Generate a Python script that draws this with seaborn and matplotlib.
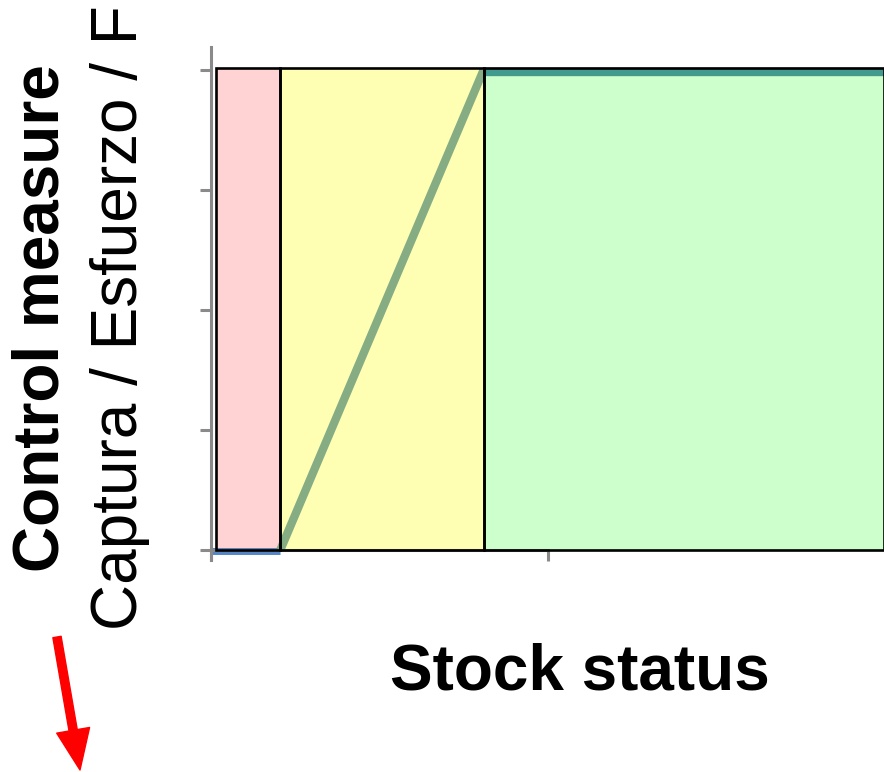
import matplotlib
matplotlib.use("Agg")
import matplotlib.pyplot as plt
import matplotlib.patches as mpatches
import seaborn as sns
import pandas as pd

# harvest control rule: zones and rule
zone_names = ["critical", "cautious", "healthy"]
zone_start = [0.007, 0.103, 0.405]
zone_end = [0.103, 0.405, 1.0]
zone_colors = ["#ffd3d3", "#ffffb4", "#ccffcc"]

seg_names = ["closed", "ramp", "target"]
seg_x0 = [0.0, 0.103, 0.405]
seg_x1 = [0.103, 0.405, 1.0]
seg_y0 = [-0.003, 0.0, 0.996]
seg_y1 = [-0.003, 1.0, 0.996]
seg_colors = ["#4a7fc4", "#7fa881", "#3a958a"]

yticks = [0, 0.25, 0.5, 0.75, 1.0]
xticks = [0, 0.5]

sns.set_style("ticks")
plt.rcParams['font.family'] = ['Liberation Sans', 'DejaVu Sans']
plt.rcParams['text.color'] = 'black'

fig = plt.figure(figsize=(8.84, 7.72), dpi=100)
ax = fig.add_axes([211 / 884, 212 / 772, 673 / 884, 513 / 772])

for x0, x1, c in zip(zone_start, zone_end, zone_colors):
    ax.add_patch(mpatches.Rectangle((x0, 0), x1 - x0, 1.004, facecolor=c,
                                    edgecolor="none", zorder=1))

rows = []
for n, a, b, c, d in zip(seg_names, seg_x0, seg_x1, seg_y0, seg_y1):
    rows.append({"seg": n, "x": a, "y": c})
    rows.append({"seg": n, "x": b, "y": d})
df = pd.DataFrame(rows)
widths = {"closed": 5, "ramp": 6, "target": 6}
for n, col in zip(seg_names, seg_colors):
    sns.lineplot(data=df[df.seg == n], x="x", y="y", color=col,
                 linewidth=widths[n], ax=ax, zorder=2, alpha=0.95,
                 solid_capstyle="butt")

for x0, x1 in zip(zone_start, zone_end):
    ax.add_patch(mpatches.Rectangle((x0, 0), x1 - x0, 1.004, facecolor="none",
                                    edgecolor="black", linewidth=1.9, zorder=3))

ax.set_xlim(0, 1.0)
ax.set_ylim(-0.021, 1.048)
ax.set_xticks(xticks)
ax.set_yticks(yticks)
ax.set_xticklabels([])
ax.set_yticklabels([])
ax.tick_params(length=8, width=2.2, color="#8a8a8a")
for s in ["top", "right"]:
    ax.spines[s].set_visible(False)
ax.spines["left"].set_color("#8a8a8a")
ax.spines["left"].set_linewidth(2.2)
ax.spines["bottom"].set_position(("data", 0))
ax.spines["bottom"].set_bounds(0, 0.5)
ax.spines["bottom"].set_color("#8a8a8a")
ax.spines["bottom"].set_linewidth(2.2)
ax.set_xlabel("")
ax.set_ylabel("")

fig.text(580 / 884, 1 - 673 / 772, "Stock status", fontsize=46,
         fontweight="bold", ha="center", va="center", color="black")
fig.text(42 / 884, 1 - 318 / 772, "Control measure", fontsize=46,
         fontweight="bold", rotation=90, ha="center", va="center", color="black")
fig.text(120 / 884, 1 - 318 / 772, "Captura / Esfuerzo / F", fontsize=46,
         rotation=90, ha="center", va="center", color="black")

ax.annotate("", xy=(80, 2), xycoords="figure pixels",
            xytext=(57, 135), textcoords="figure pixels",
            arrowprops=dict(width=6, headwidth=24, headlength=29,
                            color="#ff0000", shrink=0))

plt.savefig("out.png", dpi=100)
plt.close()
